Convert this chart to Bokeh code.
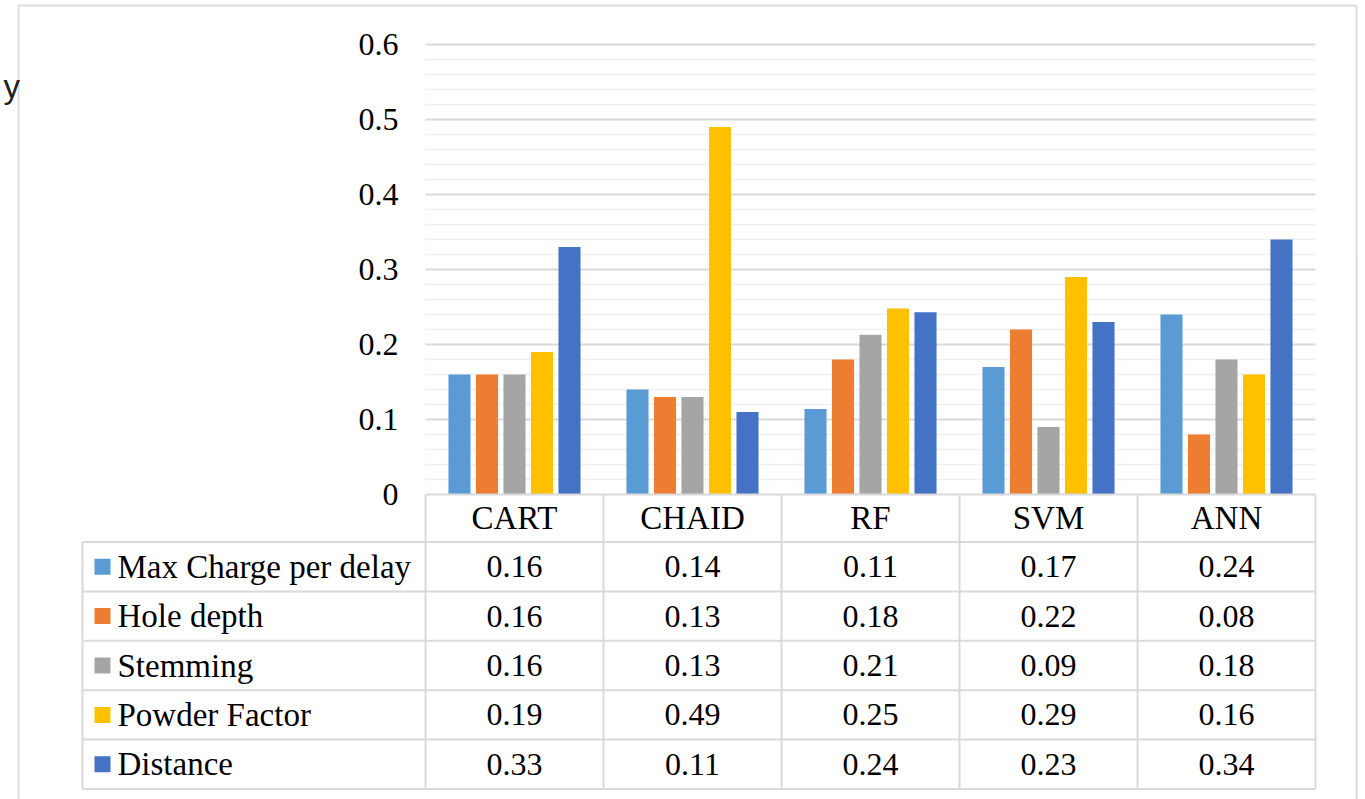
from bokeh.plotting import figure
from bokeh.models import Range1d
from bokeh.core.properties import value
from bokeh.embed import file_html
from bokeh.resources import INLINE

# ---------------- data ----------------
categories = ["CART", "CHAID", "RF", "SVM", "ANN"]
series_names = ["Max Charge per delay", "Hole depth", "Stemming", "Powder Factor", "Distance"]
max_charge = [0.16, 0.14, 0.114, 0.17, 0.24]
hole_depth = [0.16, 0.13, 0.18, 0.22, 0.08]
stemming = [0.16, 0.13, 0.213, 0.09, 0.18]
powder_factor = [0.19, 0.49, 0.248, 0.29, 0.16]
distance = [0.33, 0.11, 0.243, 0.23, 0.34]
colors = ["#5B9BD5", "#ED7D31", "#A5A5A5", "#FFC000", "#4472C4"]
y_major_ticks = [0, 0.1, 0.2, 0.3, 0.4, 0.5, 0.6]
y_minor_ticks = [round(0.02 * k, 2) for k in range(1, 31) if k % 5 != 0]
y_tick_labels = ["0", "0.1", "0.2", "0.3", "0.4", "0.5", "0.6"]

series_values = [max_charge, hole_depth, stemming, powder_factor, distance]

# ---------------- geometry (screen layout) ----------------
W, H = 1365, 799
X0_PX, PX_PER_CAT = 425.0, 178.0      # x = 0 at left of first category column
Y0_PX, PX_PER_UNIT = 494.0, 750.0     # y = 0 at the category axis line


def xd(px):
    return (px - X0_PX) / PX_PER_CAT


def yd(py):
    return (Y0_PX - py) / PX_PER_UNIT


p = figure(width=W, height=H, output_backend="svg", toolbar_location=None,
           x_range=Range1d(xd(0), xd(W)), y_range=Range1d(yd(H), yd(0)),
           x_axis_location=None, y_axis_location=None, tools="",
           min_border=0, min_border_left=0, min_border_right=0,
           min_border_top=0, min_border_bottom=0)
p.outline_line_color = None
p.xgrid.visible = False
p.ygrid.visible = False
p.background_fill_color = "white"
p.border_fill_color = "white"

ncat = len(categories)
serif = value("Liberation Serif")

# outer chart border
p.quad(left=[xd(18)], right=[xd(1356)], top=[yd(5)], bottom=[yd(830)],
       fill_color=None, line_color="#dcdcdc", line_width=2)

# grid lines
p.segment(x0=[0] * len(y_minor_ticks), x1=[ncat] * len(y_minor_ticks),
          y0=y_minor_ticks, y1=y_minor_ticks, line_color="#efefef", line_width=1.5)
p.segment(x0=[0] * 6, x1=[ncat] * 6, y0=y_major_ticks[1:], y1=y_major_ticks[1:],
          line_color="#d9d9d9", line_width=2)

# y tick labels
p.text(x=[xd(398)] * len(y_major_ticks), y=y_major_ticks, text=y_tick_labels,
       text_font=serif, text_font_size="32px", text_align="right",
       text_baseline="middle", text_color="#000000")

# bars
pitch = 0.1545
bar_w = 0.124
for j, (name, vals) in enumerate(zip(series_names, series_values)):
    xs = [i + 0.5 + (j - 2) * pitch for i in range(ncat)]
    p.vbar(x=xs, top=vals, bottom=0, width=bar_w, fill_color=colors[j],
           line_color=None)

# ---------------- data table ----------------
hdr_bot = yd(541.5)
row_h = 49.4 / PX_PER_UNIT
row_bottoms = [hdr_bot - row_h * (k + 1) for k in range(len(series_names))]
legend_left = xd(82)
grid_c = "#d9d9d9"

# horizontal table lines
p.segment(x0=[0], x1=[ncat], y0=[0], y1=[0], line_color=grid_c, line_width=2)
hl = [hdr_bot] + row_bottoms
p.segment(x0=[legend_left] * len(hl), x1=[ncat] * len(hl), y0=hl, y1=hl,
          line_color=grid_c, line_width=2)
# vertical table lines
p.segment(x0=list(range(ncat + 1)), x1=list(range(ncat + 1)),
          y0=[0] * (ncat + 1), y1=[row_bottoms[-1]] * (ncat + 1),
          line_color=grid_c, line_width=2)
p.segment(x0=[legend_left], x1=[legend_left], y0=[hdr_bot], y1=[row_bottoms[-1]],
          line_color=grid_c, line_width=2)

# category header
p.text(x=[i + 0.5 for i in range(ncat)], y=[hdr_bot / 2] * ncat, text=categories,
       text_font=serif, text_font_size="33px", text_align="center",
       text_baseline="middle", text_color="#000000")

# rows
row_mid = [b + row_h / 2 for b in row_bottoms]
p.rect(x=[xd(102)] * len(series_names), y=row_mid, width=16, height=16,
       width_units="screen", height_units="screen", fill_color=colors, line_color=None)
p.text(x=[xd(117)] * len(series_names), y=row_mid, text=series_names,
       text_font=serif, text_font_size="33px", text_align="left",
       text_baseline="middle", text_color="#000000")
for k, vals in enumerate(series_values):
    p.text(x=[i + 0.5 for i in range(ncat)], y=[row_mid[k]] * ncat,
           text=[f"{v:.2f}" for v in vals], text_font=serif, text_font_size="32px",
           text_align="center", text_baseline="middle", text_color="#000000")

# clipped left-over title fragment
p.text(x=[xd(3)], y=[yd(86)], text=["y"], text_font=value("Liberation Sans"),
       text_font_size="33px", text_align="left", text_baseline="alphabetic",
       text_color="#222222")

open("out.html", "w").write(file_html(p, INLINE))
